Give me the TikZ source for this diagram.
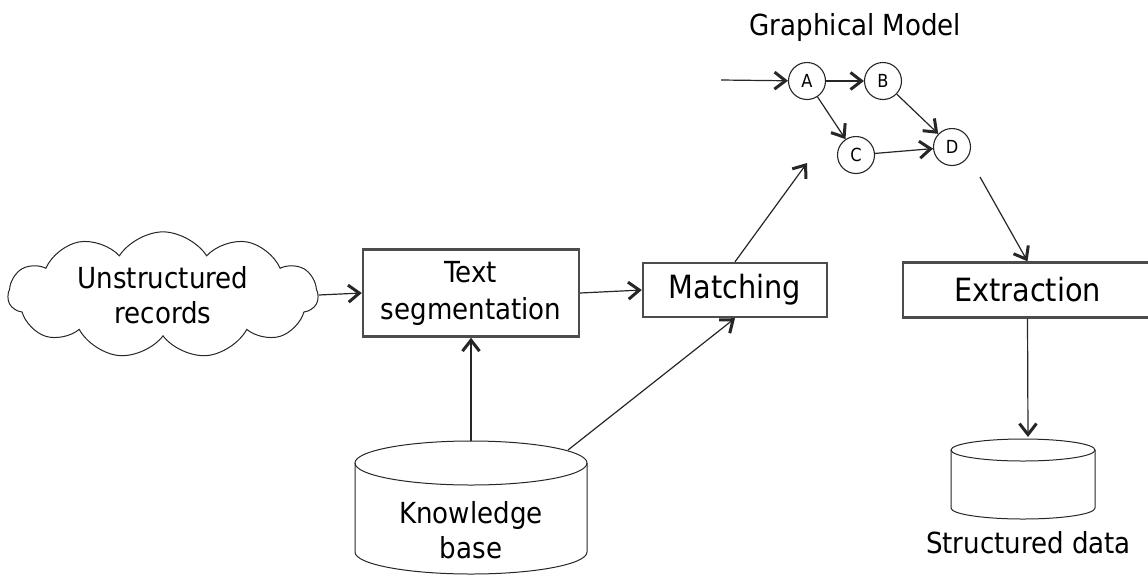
\documentclass[tikz,border=0pt]{standalone}
\usepackage{fontspec}
\setmainfont{DejaVu Sans Condensed}
\usetikzlibrary{arrows.meta,shapes.symbols}

\begin{document}
\begin{tikzpicture}[x=1pt,y=-1pt,
  >={Straight Barb[length=11pt,width=17pt,line width=3pt]},
  conn/.style={->,line width=1.2pt,draw=black!85},
  proc/.style={draw=black!70,line width=2.4pt,rectangle,inner sep=0pt},
  gnode/.style={circle,draw=black!85,line width=1.1pt,minimum size=37pt,inner sep=0pt,font=\fontsize{18}{20}\selectfont},
  lbl/.style={font=\fontsize{29}{35}\selectfont,align=center,inner sep=0pt},
  big/.style={font=\fontsize{32}{38}\selectfont},
  drum/.style={line width=1pt,draw=black!85}
]
\useasboundingbox (0,0) rectangle (1148,574);

% source cloud
\node[cloud, draw=black!85, line width=1pt, cloud puffs=11, cloud puff arc=115,
      aspect=2.6, minimum width=310pt, minimum height=118pt, lbl] (ur) at (163,295) {Unstructured\\records};

% processing steps
\node[proc, minimum width=216pt, minimum height=87pt, lbl, font=\fontsize{29}{37}\selectfont] (ts) at (471,293) {Text\\segmentation};
\node[proc, minimum width=184pt, minimum height=54pt, big] (mt) at (735,290) {Matching};
\node[proc, minimum width=249pt, minimum height=55pt, big] (ex) at (1027.5,290) {Extraction};

% knowledge base drum
\draw[drum] (355,463) -- (355,552) arc[start angle=180,end angle=360,x radius=116pt,y radius=22pt] -- (587,463);
\draw[drum] (471,463) ellipse [x radius=116pt, y radius=22pt];
\node[lbl] (kb) at (471,530) {Knowledge\\base};
\coordinate (kbtop) at (471,441);
\coordinate (kbrim) at (568,450);

% structured data drum
\draw[drum] (951,450) -- (951,508) arc[start angle=180,end angle=360,x radius=72pt,y radius=11pt] -- (1095,450);
\draw[drum] (1023,450) ellipse [x radius=72pt, y radius=11pt];
\node[lbl, anchor=base] (sd) at (1028.5,553) {Structured data};
\coordinate (sdtop) at (1028,437);

% graphical model
\node[lbl, anchor=base] (gmt) at (855.5,35) {Graphical Model};
\node[gnode] (A) at (807,81) {A};
\node[gnode] (B) at (883,81) {B};
\node[gnode] (C) at (856,155) {C};
\node[gnode] (D) at (952,147) {D};
\coordinate (gin) at (721,80);
\coordinate (gm) at (807,163);
\coordinate (gout) at (980,177);

\draw[conn] (gin) -- (A);
\draw[conn] (A) -- (B);
\draw[conn] (A) -- (C);
\draw[conn] (B) -- (D);
\draw[conn] (C) -- (D);

% pipeline flow
\draw[conn] (ur.east) -- (ts.west);
\draw[conn] (ts.east) -- (mt.west);
\draw[conn] (kbtop) -- (ts.south);
\draw[conn] (kbrim) -- (mt.south);
\draw[conn] (mt.north) -- (gm);
\draw[conn] (gout) -- (ex.north);
\draw[conn] (ex.south) -- (sdtop);
\end{tikzpicture}
\end{document}
